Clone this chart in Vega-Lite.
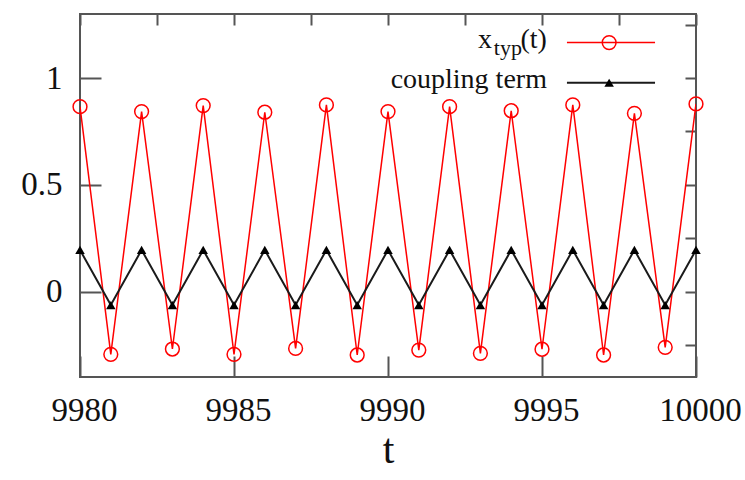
{
  "$schema": "https://vega.github.io/schema/vega-lite/v6.json",
  "width": 616,
  "height": 363,
  "autosize": {"type": "none"},
  "padding": {"left": 80, "top": 14, "right": 49, "bottom": 103},
  "background": "white",
  "config": {
    "font": "Liberation Serif",
    "view": {"stroke": "#555555", "strokeWidth": 2},
    "axis": {
      "domain": false,
      "grid": false,
      "ticks": true,
      "tickColor": "#555555",
      "tickWidth": 2,
      "labelFont": "Liberation Serif",
      "labelFontSize": 33,
      "labelColor": "#111111",
      "titleFont": "Liberation Serif",
      "titleFontWeight": "normal",
      "titleColor": "#111111"
    }
  },
  "data": {
    "values": [
      {"t": 9980, "value": 0.866, "series": "x_typ(t)"},
      {"t": 9981, "value": -0.294, "series": "x_typ(t)"},
      {"t": 9982, "value": 0.843, "series": "x_typ(t)"},
      {"t": 9983, "value": -0.269, "series": "x_typ(t)"},
      {"t": 9984, "value": 0.871, "series": "x_typ(t)"},
      {"t": 9985, "value": -0.294, "series": "x_typ(t)"},
      {"t": 9986, "value": 0.840, "series": "x_typ(t)"},
      {"t": 9987, "value": -0.266, "series": "x_typ(t)"},
      {"t": 9988, "value": 0.874, "series": "x_typ(t)"},
      {"t": 9989, "value": -0.297, "series": "x_typ(t)"},
      {"t": 9990, "value": 0.843, "series": "x_typ(t)"},
      {"t": 9991, "value": -0.274, "series": "x_typ(t)"},
      {"t": 9992, "value": 0.866, "series": "x_typ(t)"},
      {"t": 9993, "value": -0.289, "series": "x_typ(t)"},
      {"t": 9994, "value": 0.847, "series": "x_typ(t)"},
      {"t": 9995, "value": -0.270, "series": "x_typ(t)"},
      {"t": 9996, "value": 0.874, "series": "x_typ(t)"},
      {"t": 9997, "value": -0.297, "series": "x_typ(t)"},
      {"t": 9998, "value": 0.835, "series": "x_typ(t)"},
      {"t": 9999, "value": -0.261, "series": "x_typ(t)"},
      {"t": 10000, "value": 0.879, "series": "x_typ(t)"},
      {"t": 9980, "value": 0.195, "series": "coupling term"},
      {"t": 9981, "value": -0.063, "series": "coupling term"},
      {"t": 9982, "value": 0.195, "series": "coupling term"},
      {"t": 9983, "value": -0.063, "series": "coupling term"},
      {"t": 9984, "value": 0.195, "series": "coupling term"},
      {"t": 9985, "value": -0.063, "series": "coupling term"},
      {"t": 9986, "value": 0.195, "series": "coupling term"},
      {"t": 9987, "value": -0.063, "series": "coupling term"},
      {"t": 9988, "value": 0.195, "series": "coupling term"},
      {"t": 9989, "value": -0.063, "series": "coupling term"},
      {"t": 9990, "value": 0.195, "series": "coupling term"},
      {"t": 9991, "value": -0.063, "series": "coupling term"},
      {"t": 9992, "value": 0.195, "series": "coupling term"},
      {"t": 9993, "value": -0.063, "series": "coupling term"},
      {"t": 9994, "value": 0.195, "series": "coupling term"},
      {"t": 9995, "value": -0.063, "series": "coupling term"},
      {"t": 9996, "value": 0.195, "series": "coupling term"},
      {"t": 9997, "value": -0.063, "series": "coupling term"},
      {"t": 9998, "value": 0.195, "series": "coupling term"},
      {"t": 9999, "value": -0.063, "series": "coupling term"},
      {"t": 10000, "value": 0.195, "series": "coupling term"}
    ]
  },
  "resolve": {"axis": {"x": "independent", "y": "independent"}},
  "layer": [
    {
      "transform": [{"filter": "datum.series === 'x_typ(t)'"}],
      "mark": {"type": "line", "color": "#ff0000", "strokeWidth": 1.5, "clip": true},
      "encoding": {
        "x": {
          "field": "t", "type": "quantitative",
          "scale": {"domain": [9980, 10000], "nice": false, "zero": false},
          "axis": {
            "orient": "bottom",
            "title": "t",
            "titleFontSize": 42,
            "titlePadding": 2,
            "values": [9980, 9985, 9990, 9995, 10000],
            "format": "d",
            "tickSize": -21,
            "labelPadding": 38,
            "labelOffset": 4,
            "labelFlush": false,
            "labelOverlap": false
          }
        },
        "y": {
          "field": "value", "type": "quantitative",
          "scale": {"domain": [-0.4, 1.3], "nice": false, "zero": false},
          "axis": {
            "orient": "left",
            "title": null,
            "values": [0, 0.5, 1],
            "labelExpr": "datum.value === 0 ? '0' : datum.value === 0.5 ? '0.5' : '1'",
            "tickSize": -21,
            "labelPadding": 39,
            "labelFlush": false,
            "labelOverlap": false
          }
        }
      }
    },
    {
      "transform": [{"filter": "datum.series === 'coupling term'"}],
      "mark": {"type": "line", "color": "#1a1a1a", "strokeWidth": 2, "clip": true},
      "encoding": {
        "x": {
          "field": "t", "type": "quantitative",
          "scale": {"domain": [9980, 10000], "nice": false, "zero": false},
          "axis": {
            "orient": "top",
            "title": null,
            "labels": false,
            "values": [9980, 9982.5, 9985, 9987.5, 9990, 9992.5, 9995, 9997.5, 10000],
            "tickSize": -11
          }
        },
        "y": {
          "field": "value", "type": "quantitative",
          "scale": {"domain": [-0.4, 1.3], "nice": false, "zero": false},
          "axis": {
            "orient": "right",
            "title": null,
            "labels": false,
            "values": [-0.25, 0, 0.25, 0.5, 0.75, 1, 1.25],
            "tickSize": -11
          }
        }
      }
    },
    {
      "transform": [{"filter": "datum.series === 'x_typ(t)'"}],
      "mark": {"type": "point", "shape": "circle", "filled": false, "color": "#ff0000", "strokeWidth": 1.5, "size": 190, "opacity": 1, "clip": false},
      "encoding": {
        "x": {"field": "t", "type": "quantitative", "axis": null},
        "y": {"field": "value", "type": "quantitative", "axis": null}
      }
    },
    {
      "transform": [{"filter": "datum.series === 'coupling term'"}],
      "mark": {"type": "point", "shape": "triangle-up", "filled": true, "color": "#000000", "size": 90, "opacity": 1, "clip": false},
      "encoding": {
        "x": {"field": "t", "type": "quantitative", "axis": null},
        "y": {"field": "value", "type": "quantitative", "axis": null}
      }
    },
    {
      "transform": [{"filter": "datum.t === 9980 && datum.series === 'x_typ(t)'"}],
      "mark": {"type": "rule", "color": "#ff0000", "strokeWidth": 1.5},
      "encoding": {
        "x": {"datum": 9995.81, "type": "quantitative", "axis": null},
        "x2": {"datum": 9998.67},
        "y": {"datum": 1.166, "type": "quantitative", "axis": null}
      }
    },
    {
      "transform": [{"filter": "datum.t === 9980 && datum.series === 'x_typ(t)'"}],
      "mark": {"type": "point", "shape": "circle", "filled": false, "color": "#ff0000", "strokeWidth": 1.5, "size": 190, "opacity": 1},
      "encoding": {
        "x": {"datum": 9997.18, "type": "quantitative", "axis": null},
        "y": {"datum": 1.166, "type": "quantitative", "axis": null}
      }
    },
    {
      "transform": [{"filter": "datum.t === 9980 && datum.series === 'coupling term'"}],
      "mark": {"type": "rule", "color": "#1a1a1a", "strokeWidth": 2},
      "encoding": {
        "x": {"datum": 9995.81, "type": "quantitative", "axis": null},
        "x2": {"datum": 9998.67},
        "y": {"datum": 0.978, "type": "quantitative", "axis": null}
      }
    },
    {
      "transform": [{"filter": "datum.t === 9980 && datum.series === 'coupling term'"}],
      "mark": {"type": "point", "shape": "triangle-up", "filled": true, "color": "#000000", "size": 90, "opacity": 1},
      "encoding": {
        "x": {"datum": 9997.18, "type": "quantitative", "axis": null},
        "y": {"datum": 0.978, "type": "quantitative", "axis": null}
      }
    },
    {
      "transform": [{"filter": "datum.t === 9980 && datum.series === 'coupling term'"}],
      "mark": {"type": "text", "text": "coupling term", "align": "right", "baseline": "alphabetic", "fontSize": 28, "color": "#111111", "font": "Liberation Serif"},
      "encoding": {
        "x": {"datum": 9995.16, "type": "quantitative", "axis": null},
        "y": {"datum": 0.954, "type": "quantitative", "axis": null}
      }
    },
    {
      "transform": [{"filter": "datum.t === 9980 && datum.series === 'x_typ(t)'"}],
      "mark": {"type": "text", "text": "(t)", "align": "right", "baseline": "alphabetic", "fontSize": 28, "color": "#111111", "font": "Liberation Serif"},
      "encoding": {
        "x": {"datum": 9995.16, "type": "quantitative", "axis": null},
        "y": {"datum": 1.141, "type": "quantitative", "axis": null}
      }
    },
    {
      "transform": [{"filter": "datum.t === 9980 && datum.series === 'x_typ(t)'"}],
      "mark": {"type": "text", "text": "typ", "align": "right", "baseline": "alphabetic", "fontSize": 22, "color": "#111111", "font": "Liberation Serif"},
      "encoding": {
        "x": {"datum": 9994.35, "type": "quantitative", "axis": null},
        "y": {"datum": 1.108, "type": "quantitative", "axis": null}
      }
    },
    {
      "transform": [{"filter": "datum.t === 9980 && datum.series === 'x_typ(t)'"}],
      "mark": {"type": "text", "text": "x", "align": "right", "baseline": "alphabetic", "fontSize": 28, "color": "#111111", "font": "Liberation Serif"},
      "encoding": {
        "x": {"datum": 9993.38, "type": "quantitative", "axis": null},
        "y": {"datum": 1.141, "type": "quantitative", "axis": null}
      }
    }
  ]
}
